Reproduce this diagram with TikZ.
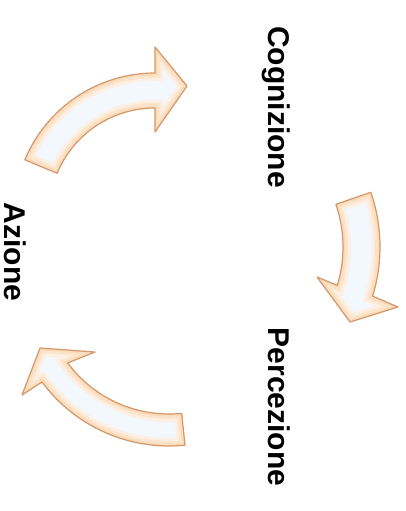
\documentclass[tikz,border=0pt]{standalone}
\usepackage{fontspec}
\setmainfont{Liberation Sans}
\definecolor{edgecol}{RGB}{214,152,104}
\definecolor{peachcol}{RGB}{250,220,188}
\definecolor{corecol}{RGB}{243,248,255}
\newcommand\arrowpathA{([shift={(202.6:141)}]155,214) arc[start angle=202.6, end angle=270, radius=141] -- (155,47) -- (187,86) -- (155,132) -- (155,108) arc[start angle=270, end angle=202.6, radius=106] -- cycle}
\newcommand\arrowpathB{([shift={(-19:131)}]212,247) -- ([shift={(-19:168)}]212,247) arc[start angle=-19, end angle=17, radius=168] -- (398,307) -- (350,322) -- (317,277) -- ([shift={(17:131)}]212,247) arc[start angle=17, end angle=-19, radius=131] -- cycle}
\newcommand\arrowpathC{([shift={(84.2:126)}]169,288) -- ([shift={(84.2:158)}]169,288) arc[start angle=84.2, end angle=143.5, radius=158] -- (22,395) -- (40,348) -- (95,352) -- ([shift={(143.5:126)}]169,288) arc[start angle=143.5, end angle=84.2, radius=126] -- cycle}
\newcommand\drawblockarrow[1]{%
  \fill[corecol] #1;
  \begin{scope}
    \clip #1;
    \draw[peachcol!45, line width=16pt] #1;
    \draw[peachcol!75, line width=10pt] #1;
    \draw[peachcol, line width=5pt] #1;
  \end{scope}
  \draw[edgecol, line width=1.2pt, line join=round] #1;
}
\begin{document}
\begin{tikzpicture}[x=1pt,y=-1pt,
  lbl/.style={font=\bfseries\fontsize{30}{36}\selectfont, rotate=-90, anchor=base, inner sep=0pt, text=black}]
\useasboundingbox[fill=white] (0,0) rectangle (406,511);
\drawblockarrow{\arrowpathA}
\drawblockarrow{\arrowpathB}
\drawblockarrow{\arrowpathC}
\node[lbl] (cog) at (268,107) {Cognizione};
\node[lbl] (perc) at (268,407) {Percezione};
\node[lbl] (az) at (5,252) {Azione};
\end{tikzpicture}
\end{document}
